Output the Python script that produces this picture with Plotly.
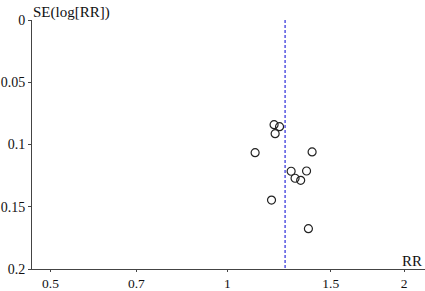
import plotly.graph_objects as go
import math

rr = [1.201, 1.227, 1.206, 1.115, 1.394, 1.284, 1.364, 1.304, 1.333, 1.189, 1.374]
se = [0.0841, 0.0857, 0.0913, 0.1066, 0.1060, 0.1215, 0.1213, 0.1271, 0.1288, 0.1446, 0.1676]
pooled_rr = 1.254
x_ticks = [0.5, 0.7, 1, 1.5, 2]
y_ticks = [0, 0.05, 0.1, 0.15, 0.2]

font = dict(family="Liberation Serif", size=15, color="#111")
tfont = dict(family="Liberation Serif", size=14, color="#111")
xfont = dict(family="Liberation Serif", size=13.5, color="#111")

fig = go.Figure()
fig.add_trace(go.Scatter(x=[pooled_rr, pooled_rr], y=[0, 0.2], mode="lines",
                         line=dict(color="#3c3cdc", width=1.3, dash="3px,2px"),
                         hoverinfo="skip", showlegend=False))
fig.add_trace(go.Scatter(x=rr, y=se, mode="markers",
                         marker=dict(symbol="circle-open", size=8, color="#222",
                                     line=dict(width=1.2, color="#222")),
                         showlegend=False))

fig.update_layout(
    width=425, height=291,
    margin=dict(l=32, r=0, t=20, b=22),
    plot_bgcolor="white", paper_bgcolor="white",
    font=font,
    xaxis=dict(type="log", range=[math.log10(0.465), math.log10(2.17)],
               tickvals=x_ticks, ticktext=[str(v) for v in x_ticks], automargin=False,
               showgrid=False, zeroline=False, showline=True, linecolor="#444", linewidth=1,
               ticks="outside", ticklen=2, tickcolor="#444", tickfont=xfont),
    yaxis=dict(range=[0.2, 0], tickvals=y_ticks, ticktext=["0", "0.05", "0.1", "0.15", "0.2"],
               automargin=False,
               showgrid=False, zeroline=False, showline=True, linecolor="#444", linewidth=1,
               ticks="outside", ticklen=3, tickcolor="#444", tickfont=tfont),
    annotations=[
        dict(text="SE(log[RR])", xref="paper", yref="paper", x=0, y=1, xanchor="left",
             yanchor="bottom", xshift=-1, yshift=-3, showarrow=False, font=font),
        dict(text="RR", xref="paper", yref="paper", x=1, y=0, xanchor="right",
             yanchor="bottom", xshift=-1, yshift=-2, showarrow=False, font=font),
    ],
)

fig.write_html("out.html", config={"displayModeBar": False},
               post_script="document.body.style.margin='0';document.body.style.overflow='hidden';")
